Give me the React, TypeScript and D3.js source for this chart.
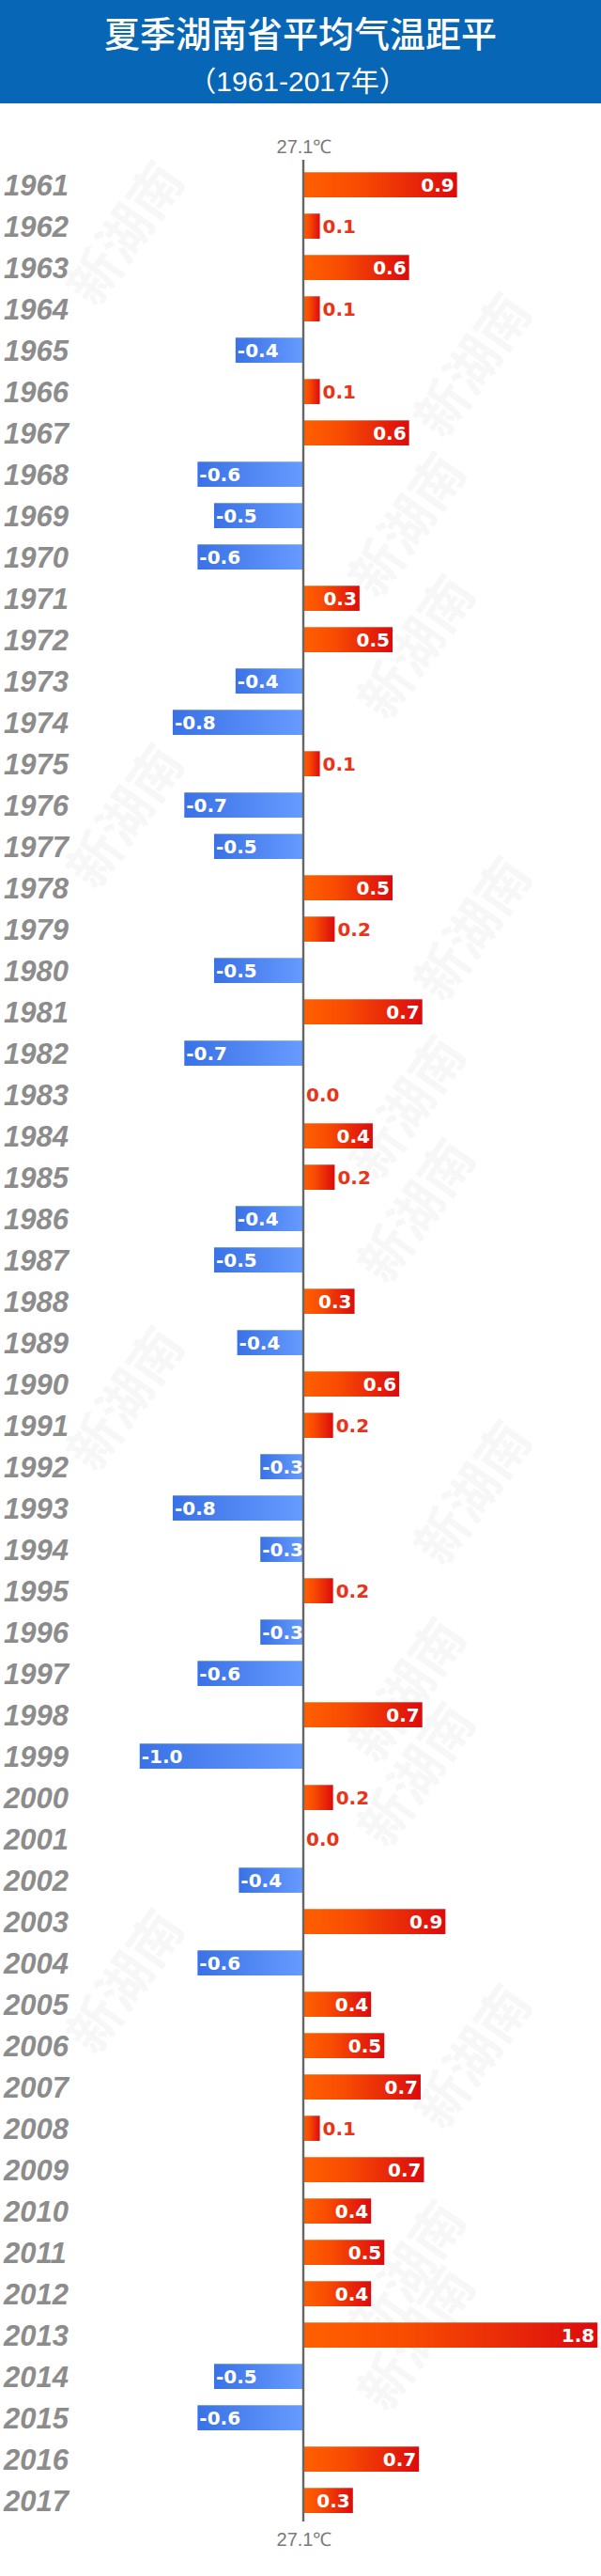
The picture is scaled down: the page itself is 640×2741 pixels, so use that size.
import React from "react";
import * as d3 from "d3";

const years = [
  "1961","1962","1963","1964","1965","1966","1967","1968","1969","1970",
  "1971","1972","1973","1974","1975","1976","1977","1978","1979","1980",
  "1981","1982","1983","1984","1985","1986","1987","1988","1989","1990",
  "1991","1992","1993","1994","1995","1996","1997","1998","1999","2000",
  "2001","2002","2003","2004","2005","2006","2007","2008","2009","2010",
  "2011","2012","2013","2014","2015","2016","2017",
];

// anomaly relative to the 27.1℃ summer mean
const anomalies = [
  0.93, 0.10, 0.64, 0.10, -0.41, 0.10, 0.64, -0.64, -0.54, -0.64,
  0.34, 0.54, -0.41, -0.79, 0.10, -0.72, -0.54, 0.54, 0.19, -0.54,
  0.72, -0.72, 0.00, 0.42, 0.19, -0.41, -0.54, 0.31, -0.40, 0.58,
  0.18, -0.26, -0.79, -0.26, 0.18, -0.26, -0.64, 0.72, -0.99, 0.18,
  0.00, -0.39, 0.86, -0.64, 0.41, 0.49, 0.71, 0.10, 0.73, 0.41,
  0.49, 0.41, 1.78, -0.54, -0.64, 0.70, 0.30,
];

const baselineLabel = "27.1℃";
const title = "夏季湖南省平均气温距平";
const subtitle = "（1961-2017年）";
const watermark = "新湖南";

const W = 640;
const H = 2741;

export default function App() {
  const x = d3.scaleLinear().domain([0, 1]).range([323, 323 + 176]);
  const y = d3
    .scaleBand<string>()
    .domain(years)
    .range([174.65, 174.65 + years.length * 44])
    .paddingInner(0.393)
    .paddingOuter(0.1965);
  const fmt0 = d3.format(".1f");
  const fmt = (v: number) => fmt0(v).replace("\u2212", "-");
  const bw = y.bandwidth();

  const marks: { x: number; y: number }[] = [];
  for (let k = 0; k < 8; k++) {
    marks.push({ x: 150 + (k % 2) * 300, y: 260 + k * 310 });
    marks.push({ x: 520 - (k % 2) * 60, y: 400 + k * 300 });
  }

  return (
    <div style={{ position: "absolute", left: 0, top: 0, width: W, height: H }}>
      <svg width={W} height={H} viewBox={`0 0 ${W} ${H}`} style={{ display: "block" }}>
        <defs>
          <linearGradient id="gPos" x1="0" x2="1" y1="0" y2="0">
            <stop offset="0%" stopColor="#ff6000" />
            <stop offset="35%" stopColor="#f84c02" />
            <stop offset="100%" stopColor="#dc0b0e" />
          </linearGradient>
          <linearGradient id="gNeg" x1="0" x2="1" y1="0" y2="0">
            <stop offset="0%" stopColor="#3a72e5" />
            <stop offset="100%" stopColor="#669bff" />
          </linearGradient>
        </defs>
        <rect x={0} y={0} width={W} height={H} fill="#ffffff" />
        {marks.map((m, i) => (
          <text
            key={"wm" + i}
            x={m.x}
            y={m.y}
            transform={`rotate(-55, ${m.x}, ${m.y})`}
            textAnchor="middle"
            fontFamily="'Noto Sans CJK SC'"
            fontWeight={700}
            fontSize={56}
            fill="#f7f7f7"
          >
            {watermark}
          </text>
        ))}
        <rect x={0} y={0} width={W} height={110} fill="#0866b6" />
        <text
          x={W / 2}
          y={37}
          dy="0.35em"
          textAnchor="middle"
          fill="#ffffff"
          fontFamily="'Noto Sans CJK SC'"
          fontWeight={500}
          fontSize={38}
        >
          {title}
        </text>
        <text
          x={317}
          y={86}
          dy="0.35em"
          textAnchor="middle"
          fill="#ffffff"
          fontFamily="'Liberation Sans', 'Noto Sans CJK SC'"
          fontSize={30}
        >
          {subtitle}
        </text>

        {years.map((yr, i) => {
          const v = anomalies[i];
          const y0 = y(yr) as number;
          const x0 = x(Math.min(0, v));
          const x1 = x(Math.max(0, v));
          const w = x1 - x0;
          const cy = y0 + bw / 2;
          const label = fmt(v);
          let lx: number;
          let anchor: "start" | "end";
          let fill: string;
          if (v < 0) {
            lx = x0 + 2;
            anchor = "start";
            fill = "#ffffff";
          } else if (w > 42) {
            lx = x1 - 3;
            anchor = "end";
            fill = "#ffffff";
          } else {
            lx = x1 + 3;
            anchor = "start";
            fill = "#e8351a";
          }
          return (
            <g key={yr}>
              <text
                x={4}
                y={cy}
                dy="0.36em"
                fill="#8c8c8c"
                fontFamily="'Liberation Sans', Arial, sans-serif"
                fontWeight={700}
                fontStyle="italic"
                fontSize={31}
              >
                {yr}
              </text>
              {w > 0 && (
                <rect
                  x={x0}
                  y={y0}
                  width={w}
                  height={bw}
                  fill={v < 0 ? "url(#gNeg)" : "url(#gPos)"}
                />
              )}
              <text
                x={lx}
                y={cy}
                dy="0.37em"
                textAnchor={anchor}
                fill={fill}
                fontFamily="'DejaVu Sans', sans-serif"
                fontWeight={700}
                fontSize={20}
              >
                {label}
              </text>
            </g>
          );
        })}

        <line x1={x(0)} x2={x(0)} y1={170} y2={2683} stroke="#666666" strokeWidth={2.4} />
        <text
          x={x(0) + 1}
          y={156}
          dy="0.35em"
          textAnchor="middle"
          fill="#7a7a7a"
          fontFamily="'Liberation Sans', Arial, sans-serif"
          fontSize={20}
        >
          {baselineLabel}
        </text>
        <text
          x={x(0) + 1}
          y={2702}
          dy="0.35em"
          textAnchor="middle"
          fill="#7a7a7a"
          fontFamily="'Liberation Sans', Arial, sans-serif"
          fontSize={20}
        >
          {baselineLabel}
        </text>
      </svg>
    </div>
  );
}
